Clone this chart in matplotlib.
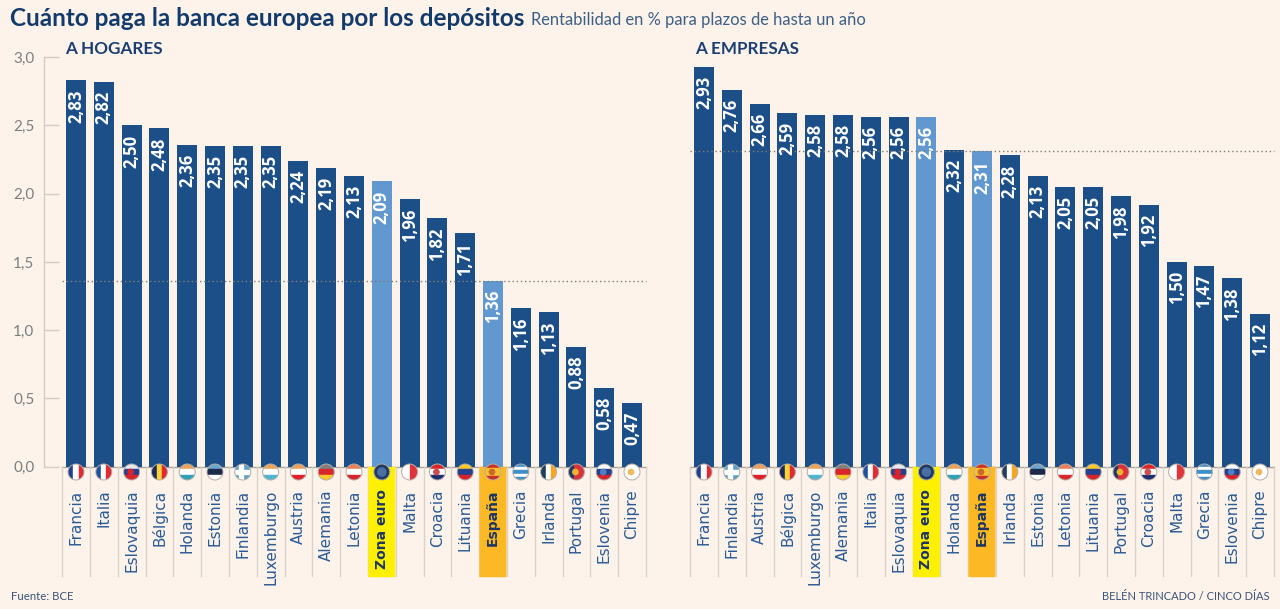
import matplotlib
matplotlib.use("Agg")
import matplotlib.pyplot as plt
from matplotlib.patches import Circle, Rectangle, FancyBboxPatch

# ===== datos =====
paises_hogares = ["Francia", "Italia", "Eslovaquia", "Bélgica", "Holanda", "Estonia", "Finlandia",
                  "Luxemburgo", "Austria", "Alemania", "Letonia", "Zona euro", "Malta", "Croacia",
                  "Lituania", "España", "Grecia", "Irlanda", "Portugal", "Eslovenia", "Chipre"]
valores_hogares = [2.83, 2.82, 2.50, 2.48, 2.36, 2.35, 2.35, 2.35, 2.24, 2.19, 2.13, 2.09, 1.96,
                   1.82, 1.71, 1.36, 1.16, 1.13, 0.88, 0.58, 0.47]

paises_empresas = ["Francia", "Finlandia", "Austria", "Bélgica", "Luxemburgo", "Alemania", "Italia",
                   "Eslovaquia", "Zona euro", "Holanda", "España", "Irlanda", "Estonia", "Letonia",
                   "Lituania", "Portugal", "Croacia", "Malta", "Grecia", "Eslovenia", "Chipre"]
valores_empresas = [2.93, 2.76, 2.66, 2.59, 2.58, 2.58, 2.56, 2.56, 2.56, 2.32, 2.31, 2.28, 2.13,
                    2.05, 2.05, 1.98, 1.92, 1.50, 1.47, 1.38, 1.12]

yticks = [0.0, 0.5, 1.0, 1.5, 2.0, 2.5, 3.0]

# banderas: (sentido de las franjas, colores, color del escudo)
banderas = {
    "Francia": ("v", ["#1f3f8f", "#ffffff", "#e02b35"], None),
    "Italia": ("v", ["#1f4f9f", "#ffffff", "#e02b35"], None),
    "Eslovaquia": ("h", ["#e8e8f0", "#24408e", "#d8232a"], "#d8232a"),
    "Bélgica": ("v", ["#1c2a5a", "#fdd33a", "#e0282e"], None),
    "Holanda": ("h", ["#eba35c", "#ffffff", "#2fa3b5"], None),
    "Estonia": ("h", ["#6aa6d0", "#1c2a4a", "#ffffff"], None),
    "Finlandia": ("cruz", ["#5aa0c8", "#ffffff"], None),
    "Luxemburgo": ("h", ["#eba35c", "#ffffff", "#4fb5d0"], None),
    "Austria": ("h", ["#e8a060", "#ffffff", "#e0202a"], None),
    "Alemania": ("h", ["#808080", "#d8262a", "#fbc92a"], None),
    "Letonia": ("h", ["#e8805a", "#ffffff", "#d8262a"], None),
    "Zona euro": ("h", ["#1d3a66"], "#4a6fa0"),
    "Malta": ("v", ["#ffffff", "#e0343a"], None),
    "Croacia": ("h", ["#d8262a", "#ffffff", "#1c2f70"], "#c85050"),
    "Lituania": ("h", ["#fbc92a", "#24408e", "#d8232a"], None),
    "España": ("h", ["#c8302a", "#fbc02a", "#fbc02a", "#c8302a"], "#c86a30"),
    "Grecia": ("h", ["#3f8fc8", "#ffffff", "#3f8fc8", "#ffffff", "#3f8fc8"], None),
    "Irlanda": ("v", ["#1d3f5a", "#ffffff", "#f5a623"], None),
    "Portugal": ("v", ["#1d3a66", "#d8323a", "#d8323a"], "#f0b030"),
    "Eslovenia": ("h", ["#ffffff", "#24408e", "#d8232a"], "#4f7fc0"),
    "Chipre": ("h", ["#ffffff"], "#f0b860"),
}

AZUL = "#1c4f87"
AZUL_CLARO = "#6198cf"
TEXTO = "#2a5a96"
FONDO = "#fdf3ea"
ANCHO, ALTO = 1280, 609
PASO = 27.8

plt.rcParams["font.family"] = ["Lato", "DejaVu Sans"]

fig = plt.figure(figsize=(ANCHO / 100, ALTO / 100), dpi=100, facecolor=FONDO)


def capa_pixeles(zorder):
    # capa a toda la figura con coordenadas en pixeles de la imagen
    capa = fig.add_axes([0, 0, 1, 1], zorder=zorder)
    capa.set_xlim(0, ANCHO)
    capa.set_ylim(ALTO, 0)
    capa.axis("off")
    return capa


fondo = capa_pixeles(0)
frente = capa_pixeles(2)


def dibuja_bandera(cx, cy, r, pais):
    sentido, colores, escudo = banderas[pais]
    borde = Circle((cx, cy), r, transform=frente.transData)
    n = len(colores)
    if sentido == "cruz":
        piezas = [Rectangle((cx - r, cy - r), 2 * r, 2 * r, color=colores[0]),
                  Rectangle((cx - r, cy - 1.6), 2 * r, 3.2, color=colores[1]),
                  Rectangle((cx - 3.5, cy - r), 3.2, 2 * r, color=colores[1])]
    elif sentido == "v":
        piezas = [Rectangle((cx - r + i * 2 * r / n, cy - r), 2 * r / n + 0.2, 2 * r, color=c)
                  for i, c in enumerate(colores)]
    else:
        piezas = [Rectangle((cx - r, cy - r + i * 2 * r / n), 2 * r, 2 * r / n + 0.2, color=c)
                  for i, c in enumerate(colores)]
    for p in piezas:
        frente.add_patch(p)
        p.set_clip_path(borde)
    if escudo:
        frente.add_patch(Circle((cx - 1 if pais != "Zona euro" else cx, cy),
                                r * 0.42 if pais != "Zona euro" else r * 0.6,
                                color=escudo, lw=0))
    frente.add_patch(Circle((cx, cy), r, fill=False, ec="#b5aca6", lw=0.7))


def panel(paises, valores, x0, izq, der, titulo, x_titulo, eje_y):
    y_cero, y_tres = 466.7, 57.2
    ax = fig.add_axes([izq / ANCHO, 1 - y_cero / ALTO, (der - izq) / ANCHO, (y_cero - y_tres) / ALTO],
                      zorder=1)
    ax.patch.set_alpha(0)
    ax.set_xlim((izq - x0) / PASO, (der - x0) / PASO)
    ax.set_ylim(0, 3)

    x = list(range(len(paises)))
    colores = [AZUL_CLARO if p in ("Zona euro", "España") else AZUL for p in paises]
    ax.bar(x, valores, width=20 / PASO, color=colores, zorder=2)

    # linea punteada a la altura de España
    ref = valores[paises.index("España")]
    ax.hlines(ref, -0.5, len(paises) - 0.5, colors="#7d7d76", linestyles=(0, (1, 2)), lw=1, zorder=3)

    for xi, v in zip(x, valores):
        ax.annotate(f"{v:.2f}".replace(".", ","), (xi, v), xytext=(0, -6.5), textcoords="offset points",
                    rotation=90, ha="center", va="top", color="white", fontsize=12, fontweight="bold",
                    family="Open Sans", zorder=4)

    ax.set_xticks(x, paises, rotation=90, fontsize=11, color=TEXTO, va="top", ha="center",
                  family="DejaVu Sans")
    ax.tick_params(axis="x", length=0, pad=16.5)
    for lab, p in zip(ax.get_xticklabels(), paises):
        if p in ("Zona euro", "España"):
            lab.set_color("#1d3560")
            lab.set_fontweight("bold")
            lab.set_fontsize(10)

    for s in ("top", "right", "bottom"):
        ax.spines[s].set_visible(False)
    if eje_y:
        ax.spines["left"].set_color("#d5cdc5")
        ax.spines["left"].set_linewidth(1)
        ax.set_yticks(yticks, [f"{t:.1f}".replace(".", ",") for t in yticks])
        ax.tick_params(axis="y", direction="in", length=11, width=1, color="#d5cdc5",
                       labelcolor="#7b7e80", labelsize=11, pad=7)
    else:
        ax.spines["left"].set_visible(False)
        ax.set_yticks([])

    # linea base, separadores, cajas destacadas y banderas
    fondo.plot([x0 - 14, x0 + 20.5 * PASO], [y_cero, y_cero], color="#a9a49f", lw=1)
    for i in range(len(paises) + 1):
        sx = x0 + (i - 0.5) * PASO
        fondo.plot([sx, sx], [y_cero, 576], color="#d9d2cb", lw=1)
    for i, p in enumerate(paises):
        cx = x0 + i * PASO
        if p in ("Zona euro", "España"):
            color = "#fff000" if p == "Zona euro" else "#fdb924"
            fondo.add_patch(FancyBboxPatch((cx - 13.5, y_cero), 27, 110.5, boxstyle="round,pad=0,rounding_size=1",
                                           fc=color, ec="none", zorder=3))
        dibuja_bandera(cx, 472, 8, p)

    fig.text(x_titulo / ANCHO, 1 - 49 / ALTO, titulo, color="#1c3f73", fontsize=12.3, fontweight="bold",
             va="center", ha="left")


panel(paises_hogares, valores_hogares, 76, 44, 650, "A HOGARES", 65, True)
panel(paises_empresas, valores_empresas, 704, 680, 1280, "A EMPRESAS", 695, False)

fig.text(10 / ANCHO, 1 - 26 / ALTO, "Cuánto paga la banca europea por los depósitos", color="#123a6b",
         fontsize=17.5, fontweight="bold", va="baseline", ha="left")
fig.text(531 / ANCHO, 1 - 25 / ALTO, "Rentabilidad en % para plazos de hasta un año", color="#3d5f86",
         fontsize=11.9, va="baseline", ha="left")
fig.text(11 / ANCHO, 1 - 596 / ALTO, "Fuente: BCE", color="#3d5478", fontsize=8.2, va="center", ha="left")
fig.text(1270 / ANCHO, 1 - 596 / ALTO, "BELÉN TRINCADO / CINCO DÍAS", color="#3d5478", fontsize=8,
         va="center", ha="right")

fig.savefig("out.png", dpi=100, facecolor=FONDO)
